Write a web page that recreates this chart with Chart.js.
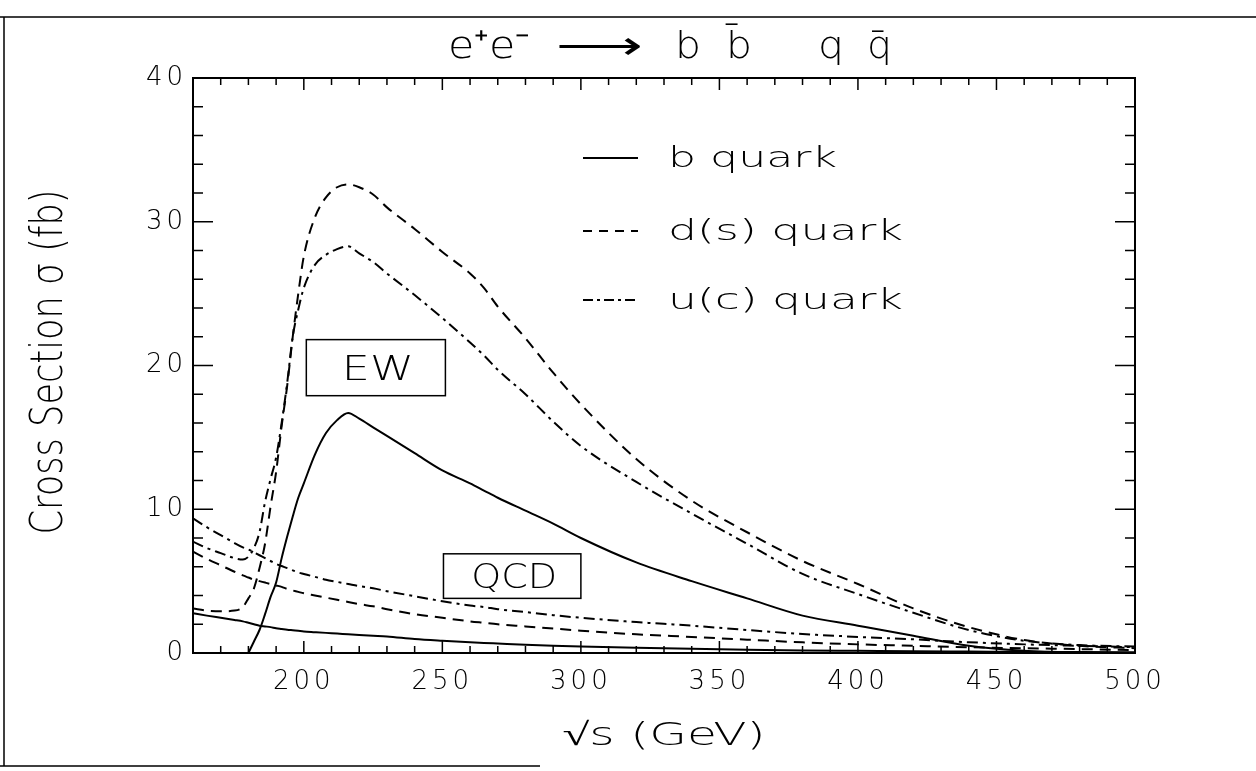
<!DOCTYPE html>
<html><head><meta charset="utf-8">
<script src="https://cdn.jsdelivr.net/npm/chart.js@4/dist/chart.umd.min.js"></script>
<style>html,body{margin:0;padding:0;background:#fff}</style>
</head><body>
<canvas id="c" width="1256" height="771"></canvas>
<script>
// ---- data ----
const energies = [160,165,170,175,178,180,182,184,186,188,190,192,194,196,198,200,204,208,212,216,220,225,230,240,250,260,265,270,280,290,300,320,340,360,380,400,420,440,460,480,500];
const ewB  = [null,null,null,null,null,0,0.8,1.6,2.7,3.9,4.9,6.6,8.1,9.5,10.8,11.8,13.8,15.3,16.2,16.7,16.3,15.7,15.1,13.9,12.7,11.8,11.3,10.8,9.9,9.0,8.0,6.3,5.0,3.8,2.6,1.9,1.2,0.5,0.15,0.03,0];
const ewD  = [3.1,2.95,2.9,2.95,3.2,3.8,4.5,5.9,7.6,10.2,12.6,15.8,18.6,22.0,25.0,27.6,30.3,31.7,32.4,32.6,32.4,31.9,31.0,29.5,27.9,26.4,25.4,24.1,21.9,19.5,17.3,13.5,10.6,8.4,6.4,4.8,3.1,1.8,0.9,0.5,0.33];
const ewU  = [7.75,7.3,6.95,6.6,6.5,6.7,7.3,8.4,10.5,12.1,13.6,16.0,18.8,22.0,23.9,25.4,27.0,27.7,28.1,28.3,27.8,27.2,26.4,24.9,23.3,21.6,20.7,19.7,18.0,16.1,14.4,11.9,9.7,7.6,5.5,4.1,2.8,1.6,0.85,0.55,0.45];
const qcdB = [2.76,2.6,2.45,2.3,2.2,2.1,2.0,1.9,1.85,1.8,1.72,1.67,1.62,1.58,1.54,1.5,1.45,1.4,1.35,1.3,1.25,1.2,1.15,0.97,0.85,0.75,0.7,0.66,0.58,0.51,0.45,0.36,0.29,0.23,0.18,0.15,0.12,0.1,0.08,0.07,0.06];
const qcdD = [7.05,6.55,6.1,5.65,5.4,5.25,5.1,5.0,4.9,4.8,4.7,4.6,4.45,4.35,4.25,4.15,4.0,3.85,3.7,3.55,3.4,3.25,3.05,2.7,2.45,2.2,2.1,2.0,1.85,1.7,1.55,1.3,1.12,0.93,0.74,0.6,0.5,0.4,0.33,0.27,0.2];
const qcdU = [9.37,8.75,8.2,7.65,7.35,7.2,7.0,6.8,6.6,6.4,6.2,6.05,5.9,5.75,5.6,5.5,5.3,5.1,4.95,4.8,4.65,4.5,4.3,3.95,3.6,3.3,3.2,3.05,2.85,2.63,2.45,2.15,1.9,1.6,1.32,1.12,0.95,0.75,0.6,0.5,0.4];
const xTickValues = [200,250,300,350,400,450,500];
const yTickValues = [0,10,20,30,40];
const legendLabels = ['b quark','d(s) quark','u(c) quark'];
const boxLabels = ['EW','QCD'];
const titleParts = ['e\u207Ae\u207B', '\u27F6', 'b', 'b\u0304', 'q', 'q\u0304'];
const xAxisTitle = '\u221As (GeV)';
const yAxisTitle = 'Cross Section \u03C3 (fb)';

// ---- styles / placement ----
const FONT = '"DejaVu Sans"';
const DASHES = [[], [11,7], [11,5,3,5]];
const LEG_DASHES = [[], [9,7], [10,4,3,4]];
const ewBox  = {x0:200.9, x1:251.1, y0:17.9, y1:21.8};
const qcdBox = {x0:250.4, x1:300.0, y0:3.8,  y1:6.9};
const titleSlots = [[448,530],[556,642],[675,701],[726,752],[818,844],[867,892]];

function pts(arr){ return energies.map((e,i)=>({x:e, y:arr[i]})); }
function ds(arr, k){
  return {data:pts(arr), borderColor:'#000', borderWidth:2, borderDash:DASHES[k],
          pointRadius:0, fill:false, cubicInterpolationMode:'monotone', spanGaps:false};
}
// draw text horizontally stretched/compressed to a target width
function fitText(ctx, text, cx, by, font, w, rot){
  ctx.save();
  ctx.font = font; ctx.letterSpacing = '0px';
  ctx.textAlign = 'center'; ctx.textBaseline = 'alphabetic'; ctx.fillStyle = '#000';
  const m = ctx.measureText(text).width;
  ctx.translate(cx, by);
  if (rot) ctx.rotate(rot);
  ctx.scale(w / m, 1);
  ctx.fillText(text, 0, 0);
  ctx.restore();
}

const decor = {
  id:'decor',
  beforeDraw(chart){ chart.ctx.letterSpacing = '4px'; },
  afterDraw(chart){
    const ctx = chart.ctx, a = chart.chartArea;
    const xs = chart.scales.x, ys = chart.scales.y;
    ctx.save();
    ctx.letterSpacing = '0px';
    ctx.strokeStyle = '#000'; ctx.fillStyle = '#000';
    // plot frame
    ctx.lineWidth = 2; ctx.setLineDash([]);
    ctx.strokeRect(a.left, a.top, a.right - a.left, a.bottom - a.top);
    // inward ticks
    ctx.lineWidth = 1.5;
    ctx.beginPath();
    for (let v = 160; v <= 500; v += 10) {
      const p = xs.getPixelForValue(v);
      const L = (v % 50 === 0) ? 12 : 7;
      ctx.moveTo(p, a.bottom); ctx.lineTo(p, a.bottom - L);
      ctx.moveTo(p, a.top); ctx.lineTo(p, a.top + L);
    }
    for (let v = 0; v <= 40; v += 2) {
      const p = ys.getPixelForValue(v);
      const L = (v % 10 === 0) ? 20 : 10;
      ctx.moveTo(a.left, p); ctx.lineTo(a.left + L, p);
      ctx.moveTo(a.right, p); ctx.lineTo(a.right - L, p);
    }
    ctx.stroke();
    // outer figure border
    ctx.lineWidth = 1.5;
    ctx.beginPath();
    ctx.moveTo(0, 17); ctx.lineTo(1256, 17);
    ctx.moveTo(4, 17); ctx.lineTo(4, 766);
    ctx.moveTo(0, 766); ctx.lineTo(540, 766);
    ctx.stroke();
    // EW / QCD boxes
    const boxW = [72, 86];
    [ewBox, qcdBox].forEach((b, i) => {
      const x0 = xs.getPixelForValue(b.x0), x1 = xs.getPixelForValue(b.x1);
      const y0 = ys.getPixelForValue(b.y1), y1 = ys.getPixelForValue(b.y0);
      ctx.fillStyle = '#fff';
      ctx.fillRect(x0, y0, x1 - x0, y1 - y0);
      ctx.lineWidth = 1.5;
      ctx.strokeRect(x0, y0, x1 - x0, y1 - y0);
      fitText(ctx, boxLabels[i], (x0 + x1) / 2 + 2, (y0 + y1) / 2 + 12, '300 34px ' + FONT, boxW[i]);
    });
    // legend
    const rowsY = [a.top + 80, a.top + 153, a.top + 222];
    const lx0 = a.left + 390, lx1 = a.left + 445, tx = a.left + 475;
    const legW = [169, 235, 235];
    legendLabels.forEach((t, i) => {
      ctx.lineWidth = 2;
      ctx.setLineDash(LEG_DASHES[i]);
      ctx.beginPath(); ctx.moveTo(lx0, rowsY[i]); ctx.lineTo(lx1, rowsY[i]); ctx.stroke();
      ctx.setLineDash([]);
      fitText(ctx, t, tx + legW[i] / 2, rowsY[i] + 9, '300 28px ' + FONT, legW[i]);
    });
    // figure title
    titleParts.forEach((t, i) => {
      const s = titleSlots[i];
      fitText(ctx, t, (s[0] + s[1]) / 2, 58, '300 38px ' + FONT, s[1] - s[0]);
    });
    // axis titles
    fitText(ctx, xAxisTitle, (a.left + a.right) / 2, 745, '300 32px ' + FONT, 203);
    fitText(ctx, yAxisTitle, 62, 362, '300 44px ' + FONT, 345, -Math.PI / 2);
    ctx.restore();
  }
};

new Chart(document.getElementById('c'), {
  type: 'line',
  data: { datasets: [ds(ewB,0), ds(ewD,1), ds(ewU,2), ds(qcdB,0), ds(qcdD,1), ds(qcdU,2)] },
  options: {
    responsive: false, animation: false, events: [],
    layout: { padding: { left: 0, right: 121, top: 78, bottom: 0 } },
    plugins: { legend: { display: false }, tooltip: { enabled: false }, title: { display: false } },
    scales: {
      x: { type: 'linear', min: 160, max: 500,
           afterBuildTicks: s => { s.ticks = xTickValues.map(v => ({value: v})); },
           afterFit: s => { s.height = 118; },
           grid: { display: false, drawTicks: false }, border: { display: false },
           ticks: { color: '#000', padding: 14, maxRotation: 0, autoSkip: false,
                    font: { family: 'DejaVu Sans', size: 26, weight: '300' } },
           title: { display: false } },
      y: { min: 0, max: 40,
           afterBuildTicks: s => { s.ticks = yTickValues.map(v => ({value: v})); },
           afterFit: s => { s.width = 193; },
           grid: { display: false, drawTicks: false }, border: { display: false },
           ticks: { color: '#000', padding: 6, font: { family: 'DejaVu Sans', size: 26, weight: '300' } },
           title: { display: false } }
    }
  },
  plugins: [decor]
});
</script>
</body></html>
